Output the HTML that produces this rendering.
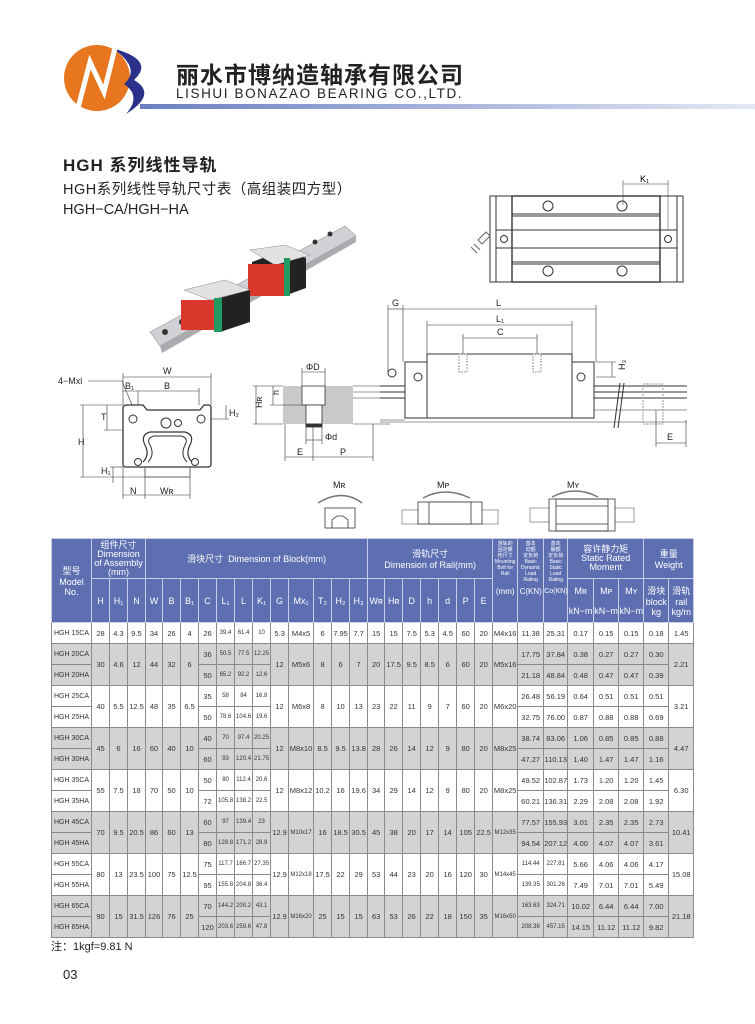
<!DOCTYPE html>
<html><head><meta charset="utf-8">
<style>
body{margin:0;background:#fff;}
#p{position:relative;width:755px;height:1024px;overflow:hidden;background:#fff;font-family:"Liberation Sans","Noto Sans CJK SC",sans-serif;color:#222;}
.a{position:absolute;white-space:nowrap;}
table{position:absolute;left:51px;top:538px;border-collapse:collapse;table-layout:fixed;width:642px;font-size:7.5px;}
td{border:1px solid #8a8a8a;text-align:center;padding:0;height:20px;overflow:hidden;white-space:nowrap;color:#333;}
tr.h td{background:#5d6fb1;color:#fff;border-color:#c8cde6;font-size:9px;}
td.s{font-size:6px;}
tr.h td.t{font-size:5px;line-height:6px;vertical-align:top;padding-top:2px;}
td.m{text-align:left;padding-left:2px;font-size:7px;}
.g td{background:#d3d3d3;}
</style></head><body><div id="p">

<svg class="a" style="left:0;top:0" width="755" height="540" viewBox="0 0 755 540">
<defs><linearGradient id="lg" x1="0" x2="1"><stop offset="0" stop-color="#6b7fc2"/><stop offset="1" stop-color="#e4e8f4"/></linearGradient></defs>
<circle cx="97" cy="78" r="33" fill="#e8761e"/>
<path d="M112 48 Q156 60 134 80 Q158 94 126 114 Q142 96 124 84 Q142 68 112 48Z" fill="#2b318a"/>
<path d="M78 108 L90 62 L104 92 L116 44" stroke="#fff" stroke-width="5" fill="none"/>
<rect x="140" y="104" width="615" height="5" fill="url(#lg)"/>
<polygon points="150,332 345,226 356,236 160,346" fill="#cfd1d4" stroke="#999" stroke-width=".6"/>
<polygon points="160,346 356,236 356,242 162,353" fill="#a9abaf"/>
<circle cx="165" cy="332" r="3" fill="#333"/><circle cx="182" cy="322" r="3" fill="#333"/><circle cx="315" cy="242" r="2.5" fill="#333"/><circle cx="330" cy="234" r="2.5" fill="#333"/>
<polygon points="252,262 284,250 306,258 306,288 284,296 252,296" fill="#222"/>
<polygon points="250,250 285,245 310,255 275,265" fill="#e2e2e2" stroke="#888" stroke-width=".5"/>
<rect x="248" y="264" width="36" height="32" fill="#d9372a"/><rect x="284" y="258" width="6" height="38" fill="#1f9a60"/>
<polygon points="184,290 225,280 250,290 210,300" fill="#e2e2e2" stroke="#888" stroke-width=".5"/>
<polygon points="220,298 250,290 250,322 220,332" fill="#222"/>
<rect x="181" y="300" width="33" height="30" fill="#d9372a"/><rect x="214" y="298" width="8" height="34" fill="#1f9a60"/>
<g stroke="#333" stroke-width="1" fill="none">
<rect x="490" y="196" width="193" height="86" fill="#fff"/>
<line x1="496" y1="196" x2="496" y2="282"/><line x1="677" y1="196" x2="677" y2="282"/>
<rect x="512" y="196" width="148" height="86" stroke-width="1.4"/>
<line x1="512" y1="214" x2="660" y2="214"/><line x1="512" y1="216" x2="660" y2="216"/>
<line x1="512" y1="230" x2="660" y2="230"/><line x1="512" y1="248" x2="660" y2="248"/>
<line x1="512" y1="262" x2="660" y2="262"/><line x1="512" y1="264" x2="660" y2="264"/>
<rect x="496" y="230" width="16" height="18"/><rect x="660" y="230" width="17" height="18"/>
<circle cx="548" cy="206" r="5"/><circle cx="622" cy="206" r="5"/><circle cx="548" cy="271" r="5"/><circle cx="622" cy="271" r="5"/>
<circle cx="504" cy="239" r="3.5"/><circle cx="668" cy="239" r="3.5"/>
<path d="M478 240 l8 -8 l4 4 l-8 8z M474 244 l6 6 M471 247 l6 6" stroke="#666"/>
<line x1="623" y1="184" x2="668" y2="184" stroke-width=".6"/><line x1="623" y1="180" x2="623" y2="205" stroke-width=".5"/><line x1="668" y1="180" x2="668" y2="230" stroke-width=".5"/>
</g>
<text x="640" y="182" font-size="9" font-family="Liberation Sans">K₁</text>
<g stroke="#333" stroke-width="1" fill="none">
<line x1="380" y1="386" x2="405" y2="386"/><line x1="380" y1="392" x2="405" y2="392"/><line x1="380" y1="398" x2="405" y2="398"/><line x1="380" y1="420" x2="405" y2="420" stroke="#999"/>
<line x1="594" y1="386" x2="687" y2="386"/><line x1="594" y1="392" x2="687" y2="392"/><line x1="594" y1="398" x2="687" y2="398"/><line x1="594" y1="410" x2="687" y2="410" stroke="#999"/><line x1="380" y1="422" x2="687" y2="422" stroke="#999"/>
<line x1="620" y1="383" x2="614" y2="428"/><line x1="624" y1="383" x2="618" y2="428"/>
<rect x="405" y="362" width="189" height="56" fill="#fff"/>
<rect x="427" y="354" width="145" height="64" fill="#fff"/>
<circle cx="418" cy="377" r="4"/><circle cx="581" cy="377" r="4"/>
<circle cx="392" cy="373" r="4"/>
<rect x="459" y="354" width="8" height="18" stroke="#999" stroke-dasharray="2 1"/><rect x="533" y="354" width="8" height="18" stroke="#999" stroke-dasharray="2 1"/>
<rect x="643" y="384" width="20" height="40" stroke="#999" stroke-dasharray="2 1"/>
<g stroke-width=".6">
<line x1="403" y1="309" x2="596" y2="309"/><line x1="403" y1="305" x2="403" y2="362"/><line x1="596" y1="305" x2="596" y2="362"/>
<line x1="388" y1="309" x2="403" y2="309"/><line x1="388" y1="305" x2="388" y2="372"/>
<line x1="427" y1="325" x2="572" y2="325"/><line x1="427" y1="321" x2="427" y2="354"/><line x1="572" y1="321" x2="572" y2="354"/>
<line x1="463" y1="338" x2="537" y2="338"/><line x1="463" y1="334" x2="463" y2="354"/><line x1="537" y1="334" x2="537" y2="354"/>
<line x1="612" y1="362" x2="612" y2="377"/><line x1="596" y1="362" x2="616" y2="362"/><line x1="596" y1="377" x2="616" y2="377"/>
<line x1="656" y1="443" x2="686" y2="443"/><line x1="656" y1="410" x2="656" y2="447"/><line x1="686" y1="420" x2="686" y2="447"/>
</g></g>
<g font-size="9" font-family="Liberation Sans" fill="#222">
<text x="392" y="306">G</text><text x="496" y="306">L</text><text x="496" y="322">L₁</text><text x="497" y="335">C</text>
<text x="622" y="373" transform="rotate(-90 622 370)">H₃</text><text x="667" y="440">E</text>
</g>
<g stroke="#333" stroke-width="1" fill="none">
<path d="M123 408 Q123 405 127 405 L143 405 L147 410 L200 410 L204 405 L208 405 Q211 405 211 408 L211 464 Q211 467 208 467 L126 467 Q123 467 123 464 Z" fill="#fff" stroke-width="1.3"/>
<path d="M145 467 L145 477 L190 477 L190 467" stroke="#666"/>
<path d="M143 462 Q150 455 145 445 Q140 435 150 432 L185 432 Q195 435 190 445 Q185 455 192 462" stroke-width="1.2"/>
<path d="M148 462 Q155 455 150 445 Q146 438 154 436 L181 436 Q189 438 185 445 Q180 455 187 462"/>
<circle cx="133" cy="419" r="4"/><circle cx="201" cy="419" r="4"/><circle cx="138" cy="462" r="3.5"/><circle cx="195" cy="462" r="3.5"/>
<circle cx="166" cy="423" r="5"/><circle cx="178" cy="423" r="3.5"/>
<g stroke-width=".6">
<line x1="123" y1="377" x2="211" y2="377"/><line x1="123" y1="373" x2="123" y2="405"/><line x1="211" y1="373" x2="211" y2="405"/>
<line x1="123" y1="391" x2="199" y2="391"/><line x1="138" y1="391" x2="138" y2="405"/><line x1="199" y1="388" x2="199" y2="405"/>
<line x1="83" y1="405" x2="83" y2="477"/><line x1="80" y1="405" x2="123" y2="405"/><line x1="80" y1="477" x2="145" y2="477"/>
<line x1="107" y1="405" x2="107" y2="430"/><line x1="104" y1="430" x2="123" y2="430"/>
<line x1="226" y1="405" x2="226" y2="419"/><line x1="211" y1="419" x2="229" y2="419"/>
<line x1="113" y1="467" x2="113" y2="483"/><line x1="110" y1="467" x2="123" y2="467"/>
<line x1="123" y1="495" x2="190" y2="495"/><line x1="123" y1="467" x2="123" y2="499"/><line x1="145" y1="477" x2="145" y2="499"/><line x1="190" y1="477" x2="190" y2="499"/>
<path d="M88 381 L122 381 L132 405"/>
</g></g>
<g font-size="9" font-family="Liberation Sans" fill="#222">
<text x="58" y="384">4−Mxl</text><text x="163" y="374">W</text><text x="125" y="389">B₁</text><text x="164" y="389">B</text>
<text x="78" y="445">H</text><text x="101" y="420">T</text><text x="229" y="416">H₂</text><text x="101" y="474">H₁</text>
<text x="130" y="494">N</text><text x="160" y="494">Wʀ</text>
</g>
<g stroke="#333" stroke-width=".8">
<rect x="283" y="386" width="70" height="38" fill="#c9c9c9" stroke="none"/>
<rect x="302" y="386" width="23" height="19" fill="#fff"/>
<rect x="306" y="405" width="16" height="19" fill="#fff"/>
<rect x="306" y="424" width="16" height="3" fill="#333"/>
<g stroke-width=".6" fill="none">
<line x1="353" y1="386" x2="390" y2="386"/><line x1="353" y1="392" x2="390" y2="392"/><line x1="353" y1="398" x2="390" y2="398"/><line x1="353" y1="424" x2="390" y2="424"/>
<line x1="302" y1="372" x2="325" y2="372"/><line x1="302" y1="368" x2="302" y2="386"/><line x1="325" y1="368" x2="325" y2="386"/>
<line x1="306" y1="440" x2="322" y2="440"/><line x1="306" y1="427" x2="306" y2="444"/><line x1="322" y1="427" x2="322" y2="444"/>
<line x1="256" y1="386" x2="256" y2="424"/><line x1="253" y1="386" x2="283" y2="386"/><line x1="253" y1="424" x2="283" y2="424"/>
<line x1="273" y1="386" x2="273" y2="405"/><line x1="270" y1="405" x2="302" y2="405"/>
<line x1="285" y1="457" x2="313" y2="457"/><line x1="313" y1="457" x2="373" y2="457"/><line x1="285" y1="424" x2="285" y2="461"/><line x1="313" y1="424" x2="313" y2="461"/><line x1="373" y1="424" x2="373" y2="461"/>
</g></g>
<g font-size="9" font-family="Liberation Sans" fill="#222">
<text x="306" y="370">ΦD</text><text x="325" y="440">Φd</text><text x="297" y="455">E</text><text x="340" y="455">P</text>
<text x="259" y="411" transform="rotate(-90 259 408)">Hʀ</text><text x="276" y="398" transform="rotate(-90 276 395)">h</text>
<text x="333" y="488">Mʀ</text><text x="437" y="488">Mᴘ</text><text x="567" y="488">Mʏ</text>
</g>
<g stroke="#777" fill="none" stroke-width="1.5">
<path d="M318 503 Q342 488 362 503"/><path d="M423 498 Q445 486 470 498"/><path d="M552 497 Q575 485 598 497"/>
</g>
<g stroke="#333" fill="none" stroke-width=".8">
<rect x="325" y="508" width="30" height="20"/><path d="M332 528 L332 520 L337 516 L343 516 L348 520 L348 528"/>
<rect x="402" y="510" width="96" height="14" stroke="#888"/><rect x="418" y="502" width="64" height="22" fill="#fff"/><rect x="429" y="502" width="42" height="22" fill="#fff"/>
<rect x="530" y="508" width="104" height="14" stroke="#888"/><rect x="549" y="499" width="66" height="32" fill="#fff"/><rect x="556" y="499" width="52" height="32"/>
<line x1="556" y1="506" x2="608" y2="506"/><line x1="556" y1="524" x2="608" y2="524"/>
</g>
</svg>

<div class="a" style="left:176px;top:56px;font-size:23px;font-weight:bold;letter-spacing:1px;color:#222;">丽水市博纳造轴承有限公司</div>
<div class="a" style="left:176px;top:86px;font-size:13.5px;letter-spacing:1.6px;color:#222;">LISHUI BONAZAO BEARING CO.,LTD.</div>
<div class="a" style="left:63px;top:151px;font-size:17px;font-weight:bold;letter-spacing:1px;">HGH 系列线性导轨</div>
<div class="a" style="left:63px;top:178px;font-size:14.5px;letter-spacing:.5px;">HGH系列线性导轨尺寸表（高组装四方型）</div>
<div class="a" style="left:63px;top:202px;font-size:14.5px;">HGH−CA/HGH−HA</div>

<table>
<colgroup><col style="width:40px"><col style="width:18px"><col style="width:18px"><col style="width:18px"><col style="width:17px"><col style="width:18px"><col style="width:18px"><col style="width:18px"><col style="width:18px"><col style="width:18px"><col style="width:18px"><col style="width:18px"><col style="width:25px"><col style="width:18px"><col style="width:18px"><col style="width:18px"><col style="width:17px"><col style="width:18px"><col style="width:18px"><col style="width:18px"><col style="width:18px"><col style="width:18px"><col style="width:18px"><col style="width:25px"><col style="width:26px"><col style="width:24px"><col style="width:26px"><col style="width:25px"><col style="width:25px"><col style="width:25px"><col style="width:25px"></colgroup>
<tr class="h" style="height:40px"><td rowspan="2">型号<br>Model<br>No.</td><td colspan="3" style="line-height:9px">组件尺寸<br>Dimension<br>of Assembly<br>(mm)</td><td colspan="12">滑块尺寸 &nbsp;Dimension of Block(mm)</td><td colspan="7">滑轨尺寸<br>Dimension of Rail(mm)</td><td rowspan="2" class="t">滑轨的<br>固定螺<br>栓尺寸<br>Mounting<br>Bolt for<br>Rail<br><br><br><span style="font-size:8px">(mm)</span></td><td rowspan="2" class="t">基本<br>动额<br>定负荷<br>Basic<br>Dynamic<br>Load<br>Rating<br><br><span style="font-size:8px">C(KN)</span></td><td rowspan="2" class="t">基本<br>静额<br>定负荷<br>Basic<br>Static<br>Load<br>Rating<br><br><span style="font-size:7px">Co(KN)</span></td><td colspan="3" style="line-height:9px">容许静力矩<br>Static Rated<br>Moment</td><td colspan="2">重量<br>Weight</td></tr>
<tr class="h" style="height:44px"><td>H</td><td>H₁</td><td>N</td><td>W</td><td>B</td><td>B₁</td><td>C</td><td>L₁</td><td>L</td><td>K₁</td><td>G</td><td>Mx₁</td><td>T₂</td><td>H₂</td><td>H₃</td><td>Wʀ</td><td>Hʀ</td><td>D</td><td>h</td><td>d</td><td>P</td><td>E</td><td>Mʀ<br><br>kN−m</td><td>Mᴘ<br><br>kN−m</td><td>Mʏ<br><br>kN−m</td><td>滑块<br>block<br>kg</td><td>滑轨<br>rail<br>kg/m</td></tr>
<tr><td class="m">HGH 15CA</td><td>28</td><td>4.3</td><td>9.5</td><td>34</td><td>26</td><td>4</td><td>26</td><td class="s">39.4</td><td class="s">61.4</td><td class="s">10</td><td>5.3</td><td>M4x5</td><td>6</td><td>7.95</td><td>7.7</td><td>15</td><td>15</td><td>7.5</td><td>5.3</td><td>4.5</td><td>60</td><td>20</td><td>M4x16</td><td>11.38</td><td>25.31</td><td>0.17</td><td>0.15</td><td>0.15</td><td>0.18</td><td>1.45</td></tr>
<tr class="g"><td class="m">HGH 20CA</td><td rowspan="2">30</td><td rowspan="2">4.6</td><td rowspan="2">12</td><td rowspan="2">44</td><td rowspan="2">32</td><td rowspan="2">6</td><td>36</td><td class="s">50.5</td><td class="s">77.5</td><td class="s">12.25</td><td rowspan="2">12</td><td rowspan="2">M5x6</td><td rowspan="2">8</td><td rowspan="2">6</td><td rowspan="2">7</td><td rowspan="2">20</td><td rowspan="2">17.5</td><td rowspan="2">9.5</td><td rowspan="2">8.5</td><td rowspan="2">6</td><td rowspan="2">60</td><td rowspan="2">20</td><td rowspan="2">M5x16</td><td>17.75</td><td>37.84</td><td>0.38</td><td>0.27</td><td>0.27</td><td>0.30</td><td rowspan="2">2.21</td></tr>
<tr class="g"><td class="m">HGH 20HA</td><td>50</td><td class="s">65.2</td><td class="s">92.2</td><td class="s">12.6</td><td>21.18</td><td>48.84</td><td>0.48</td><td>0.47</td><td>0.47</td><td>0.39</td></tr>
<tr><td class="m">HGH 25CA</td><td rowspan="2">40</td><td rowspan="2">5.5</td><td rowspan="2">12.5</td><td rowspan="2">48</td><td rowspan="2">35</td><td rowspan="2">6.5</td><td>35</td><td class="s">58</td><td class="s">84</td><td class="s">16.8</td><td rowspan="2">12</td><td rowspan="2">M6x8</td><td rowspan="2">8</td><td rowspan="2">10</td><td rowspan="2">13</td><td rowspan="2">23</td><td rowspan="2">22</td><td rowspan="2">11</td><td rowspan="2">9</td><td rowspan="2">7</td><td rowspan="2">60</td><td rowspan="2">20</td><td rowspan="2">M6x20</td><td>26.48</td><td>56.19</td><td>0.64</td><td>0.51</td><td>0.51</td><td>0.51</td><td rowspan="2">3.21</td></tr>
<tr><td class="m">HGH 25HA</td><td>50</td><td class="s">78.6</td><td class="s">104.6</td><td class="s">19.6</td><td>32.75</td><td>76.00</td><td>0.87</td><td>0.88</td><td>0.88</td><td>0.69</td></tr>
<tr class="g"><td class="m">HGH 30CA</td><td rowspan="2">45</td><td rowspan="2">6</td><td rowspan="2">16</td><td rowspan="2">60</td><td rowspan="2">40</td><td rowspan="2">10</td><td>40</td><td class="s">70</td><td class="s">97.4</td><td class="s">20.25</td><td rowspan="2">12</td><td rowspan="2">M8x10</td><td rowspan="2">8.5</td><td rowspan="2">9.5</td><td rowspan="2">13.8</td><td rowspan="2">28</td><td rowspan="2">26</td><td rowspan="2">14</td><td rowspan="2">12</td><td rowspan="2">9</td><td rowspan="2">80</td><td rowspan="2">20</td><td rowspan="2">M8x25</td><td>38.74</td><td>83.06</td><td>1.06</td><td>0.85</td><td>0.85</td><td>0.88</td><td rowspan="2">4.47</td></tr>
<tr class="g"><td class="m">HGH 30HA</td><td>60</td><td class="s">93</td><td class="s">120.4</td><td class="s">21.75</td><td>47.27</td><td>110.13</td><td>1.40</td><td>1.47</td><td>1.47</td><td>1.16</td></tr>
<tr><td class="m">HGH 35CA</td><td rowspan="2">55</td><td rowspan="2">7.5</td><td rowspan="2">18</td><td rowspan="2">70</td><td rowspan="2">50</td><td rowspan="2">10</td><td>50</td><td class="s">80</td><td class="s">112.4</td><td class="s">20.6</td><td rowspan="2">12</td><td rowspan="2">M8x12</td><td rowspan="2">10.2</td><td rowspan="2">16</td><td rowspan="2">19.6</td><td rowspan="2">34</td><td rowspan="2">29</td><td rowspan="2">14</td><td rowspan="2">12</td><td rowspan="2">9</td><td rowspan="2">80</td><td rowspan="2">20</td><td rowspan="2">M8x25</td><td>49.52</td><td>102.87</td><td>1.73</td><td>1.20</td><td>1.20</td><td>1.45</td><td rowspan="2">6.30</td></tr>
<tr><td class="m">HGH 35HA</td><td>72</td><td class="s">105.8</td><td class="s">138.2</td><td class="s">22.5</td><td>60.21</td><td>136.31</td><td>2.29</td><td>2.08</td><td>2.08</td><td>1.92</td></tr>
<tr class="g"><td class="m">HGH 45CA</td><td rowspan="2">70</td><td rowspan="2">9.5</td><td rowspan="2">20.5</td><td rowspan="2">86</td><td rowspan="2">60</td><td rowspan="2">13</td><td>60</td><td class="s">97</td><td class="s">139.4</td><td class="s">23</td><td rowspan="2">12.9</td><td rowspan="2" class="s">M10x17</td><td rowspan="2">16</td><td rowspan="2">18.5</td><td rowspan="2">30.5</td><td rowspan="2">45</td><td rowspan="2">38</td><td rowspan="2">20</td><td rowspan="2">17</td><td rowspan="2">14</td><td rowspan="2">105</td><td rowspan="2">22.5</td><td rowspan="2" class="s">M12x35</td><td>77.57</td><td>155.93</td><td>3.01</td><td>2.35</td><td>2.35</td><td>2.73</td><td rowspan="2">10.41</td></tr>
<tr class="g"><td class="m">HGH 45HA</td><td>80</td><td class="s">128.8</td><td class="s">171.2</td><td class="s">28.9</td><td>94.54</td><td>207.12</td><td>4.00</td><td>4.07</td><td>4.07</td><td>3.61</td></tr>
<tr><td class="m">HGH 55CA</td><td rowspan="2">80</td><td rowspan="2">13</td><td rowspan="2">23.5</td><td rowspan="2">100</td><td rowspan="2">75</td><td rowspan="2">12.5</td><td>75</td><td class="s">117.7</td><td class="s">166.7</td><td class="s">27.35</td><td rowspan="2">12.9</td><td rowspan="2" class="s">M12x18</td><td rowspan="2">17.5</td><td rowspan="2">22</td><td rowspan="2">29</td><td rowspan="2">53</td><td rowspan="2">44</td><td rowspan="2">23</td><td rowspan="2">20</td><td rowspan="2">16</td><td rowspan="2">120</td><td rowspan="2">30</td><td rowspan="2" class="s">M14x45</td><td class="s">114.44</td><td class="s">227.81</td><td>5.66</td><td>4.06</td><td>4.06</td><td>4.17</td><td rowspan="2">15.08</td></tr>
<tr><td class="m">HGH 55HA</td><td>95</td><td class="s">155.8</td><td class="s">204.8</td><td class="s">36.4</td><td class="s">139.35</td><td class="s">301.26</td><td>7.49</td><td>7.01</td><td>7.01</td><td>5.49</td></tr>
<tr class="g"><td class="m">HGH 65CA</td><td rowspan="2">90</td><td rowspan="2">15</td><td rowspan="2">31.5</td><td rowspan="2">126</td><td rowspan="2">76</td><td rowspan="2">25</td><td>70</td><td class="s">144.2</td><td class="s">200.2</td><td class="s">43.1</td><td rowspan="2">12.9</td><td rowspan="2" class="s">M16x20</td><td rowspan="2">25</td><td rowspan="2">15</td><td rowspan="2">15</td><td rowspan="2">63</td><td rowspan="2">53</td><td rowspan="2">26</td><td rowspan="2">22</td><td rowspan="2">18</td><td rowspan="2">150</td><td rowspan="2">35</td><td rowspan="2" class="s">M16x50</td><td class="s">163.63</td><td class="s">324.71</td><td>10.02</td><td>6.44</td><td>6.44</td><td>7.00</td><td rowspan="2">21.18</td></tr>
<tr class="g"><td class="m">HGH 65HA</td><td>120</td><td class="s">203.6</td><td class="s">259.6</td><td class="s">47.8</td><td class="s">208.36</td><td class="s">457.15</td><td>14.15</td><td>11.12</td><td>11.12</td><td>9.82</td></tr>
</table>

<div class="a" style="left:51px;top:938px;font-size:11px;">注：1kgf=9.81 N</div>
<div class="a" style="left:63px;top:967px;font-size:13px;">03</div>
</div></body></html>
